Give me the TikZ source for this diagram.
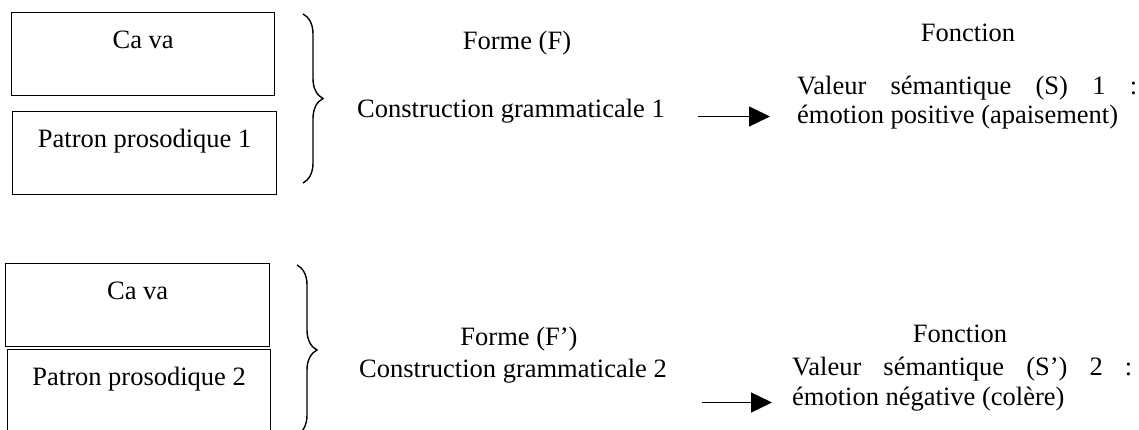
\documentclass[tikz,border=0pt]{standalone}
\usepackage{fontspec}
\setmainfont{Liberation Serif}
\usetikzlibrary{arrows.meta, decorations.pathreplacing}
\tikzset{
x=1pt, y=-1pt, % one unit per pixel, y pointing down
every node/.style={font=\fontsize{26.5}{29}\selectfont}, % Times-like text everywhere
boite/.style={draw, line width=1.3pt, inner sep=0pt, minimum width=263pt, text height=36pt, text depth=47pt, anchor=north west}, % the boxes on the left
txt/.style={anchor=base, inner sep=0pt}, % one line of text, placed at its baseline
valeur/.style={text width=340pt, align=justify, anchor=base west, inner sep=0pt}, % justified text on the right
accolade/.style={decorate, decoration={brace, amplitude=20pt}, line width=1.4pt}, % the curly braces
fleche/.style={-{Triangle[length=21pt, width=20pt]}, line width=1.4pt}, % the arrows
}

\begin{document}
\begin{tikzpicture}
      \useasboundingbox (0,0) rectangle (1139,430);
      \clip (0,0) rectangle (1139,430);

      % first case
      \node[boite] (cava1) at (11,12) {Ca va};
      \node[boite, minimum width=264pt] (patron1) at (12,111) {Patron prosodique 1};
      \coordinate (acc1h) at (303,14);
      \coordinate (acc1b) at (303,183);
      \node[txt] (forme1) at (517,50) {Forme (F)};
      \node[txt] (constr1) at (511,118) {Construction grammaticale 1};
      \node[txt] (fonction1) at (968,42) {Fonction};
      \node[valeur] (valeur1) at (797,95) {Valeur sémantique (S) 1~:\linebreak émotion positive (apaisement)};
      \coordinate (fl1d) at (698,116.5);
      \coordinate (fl1f) at (770,116.5);

      % second case
      \node[boite, minimum width=264pt] (cava2) at (5,263) {Ca va};
      \node[boite, text depth=48pt] (patron2) at (7,349) {Patron prosodique 2};
      \coordinate (acc2h) at (297,265);
      \coordinate (acc2b) at (297,435);
      \node[txt] (forme2) at (519,345) {Forme (F’)};
      \node[txt] (constr2) at (513,377) {Construction grammaticale 2};
      \node[txt] (fonction2) at (960,342) {Fonction};
      \node[valeur, font=\fontsize{26.5}{30}\selectfont] (valeur2) at (792,375) {Valeur sémantique (S’) 2~:\linebreak émotion négative (colère)};
      \coordinate (fl2d) at (702,402.5);
      \coordinate (fl2f) at (772,402.5);

      \draw[accolade] (acc1h) -- (acc1b);
      \draw[accolade] (acc2h) -- (acc2b);
      \draw[fleche] (fl1d) -- (fl1f);
      \draw[fleche] (fl2d) -- (fl2f);
    \end{tikzpicture}
\end{document}
